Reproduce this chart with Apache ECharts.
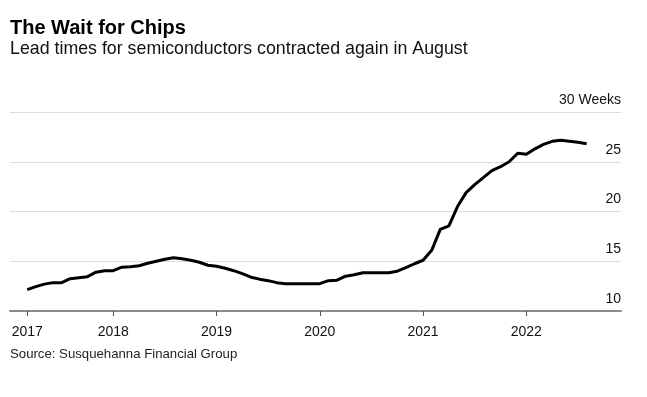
<!DOCTYPE html>
<html>
<head>
<meta charset="utf-8">
<script src="https://cdn.jsdelivr.net/npm/echarts@6/dist/echarts.min.js"></script>
<style>
  html, body { margin: 0; padding: 0; background: #fff; }
  #main { width: 647px; height: 397px; }
</style>
</head>
<body>
<div id="main"></div>
<script>
// months on the axis: Jan 2017 .. Dec 2022
let years = [2017, 2018, 2019, 2020, 2021, 2022]
// lead times in weeks, monthly, Mar 2017 .. Aug 2022
let leadTimes = [
  12.15, 12.45, 12.7, 12.85, 12.85, 13.25, 13.35, 13.45, 13.9, 14.05,
  14.05, 14.4, 14.45, 14.55, 14.8, 15.0, 15.2, 15.35, 15.25, 15.1, 14.9, 14.6,
  14.5, 14.3, 14.05, 13.75, 13.4, 13.2, 13.05, 12.85, 12.75, 12.75, 12.75, 12.75,
  12.75, 13.05, 13.1, 13.5, 13.65, 13.85, 13.85, 13.85, 13.85, 14.0, 14.35, 14.75,
  15.1, 16.1, 18.2, 18.55, 20.5, 21.9, 22.7, 23.4, 24.1, 24.5, 25.0, 25.85,
  25.75, 26.3, 26.75, 27.05, 27.15, 27.05, 26.95, 26.8
]
let firstIndex = 2   // data starts in March 2017
let yTicks = [10, 15, 20, 25, 30]

let months = []
years.forEach(y => {
  for (let m = 1; m <= 12; m++) months.push(y + '-' + (m < 10 ? '0' + m : m))
})
let seriesData = months.map((m, i) => {
  let v = leadTimes[i - firstIndex]
  return v === undefined ? null : v
})

// tick on first data point and on every January after it
function showTick(idx) {
  return idx === firstIndex || (idx > firstIndex && idx % 12 === 0)
}

let font = '"Liberation Sans", Arial, sans-serif'

let myChart = echarts.init(document.getElementById('main'))
myChart.setOption({
  animation: false,
  backgroundColor: '#fff',
  title: [
    {
      text: 'The Wait for Chips',
      left: 10, top: 18, padding: 0,
      textStyle: { fontFamily: font, fontSize: 20, fontWeight: 'bold', color: '#000' }
    },
    {
      text: 'Lead times for semiconductors contracted again in August',
      left: 10, top: 40, padding: 0,
      textStyle: { fontFamily: font, fontSize: 17.8, fontWeight: 'normal', color: '#111' }
    },
    {
      text: 'Source: Susquehanna Financial Group',
      left: 10, top: 348, padding: 0,
      textStyle: { fontFamily: font, fontSize: 13.2, fontWeight: 'normal', color: '#222' }
    }
  ],
  grid: { left: 10, right: 26, top: 112, bottom: 86 },
  xAxis: {
    type: 'category',
    data: months,
    boundaryGap: false,
    axisLine: { onZero: false, lineStyle: { color: '#8a8a8a', width: 2 } },
    axisTick: { interval: showTick, length: 5, lineStyle: { color: '#555', width: 1 } },
    axisLabel: {
      interval: showTick,
      formatter: v => v.slice(0, 4),
      fontFamily: font, fontSize: 14, color: '#111', margin: 14
    },
    splitLine: { show: false }
  },
  yAxis: {
    type: 'value',
    position: 'right',
    min: yTicks[0],
    max: yTicks[yTicks.length - 1],
    interval: 5,
    axisLine: { show: false },
    axisTick: { show: false },
    splitLine: { lineStyle: { color: '#dcdcdc', width: 1 } },
    axisLabel: {
      inside: true,
      margin: 0,
      align: 'right',
      verticalAlign: 'bottom',
      lineHeight: 14,
      padding: [0, 0, 5, 0],
      formatter: v => v === 30 ? '30 Weeks' : String(v),
      fontFamily: font, fontSize: 14, color: '#111'
    }
  },
  series: [{
    type: 'line',
    data: seriesData,
    showSymbol: false,
    symbol: 'none',
    connectNulls: false,
    lineStyle: { color: '#000', width: 3, join: 'round' },
    z: 5
  }]
})
</script>
</body>
</html>
